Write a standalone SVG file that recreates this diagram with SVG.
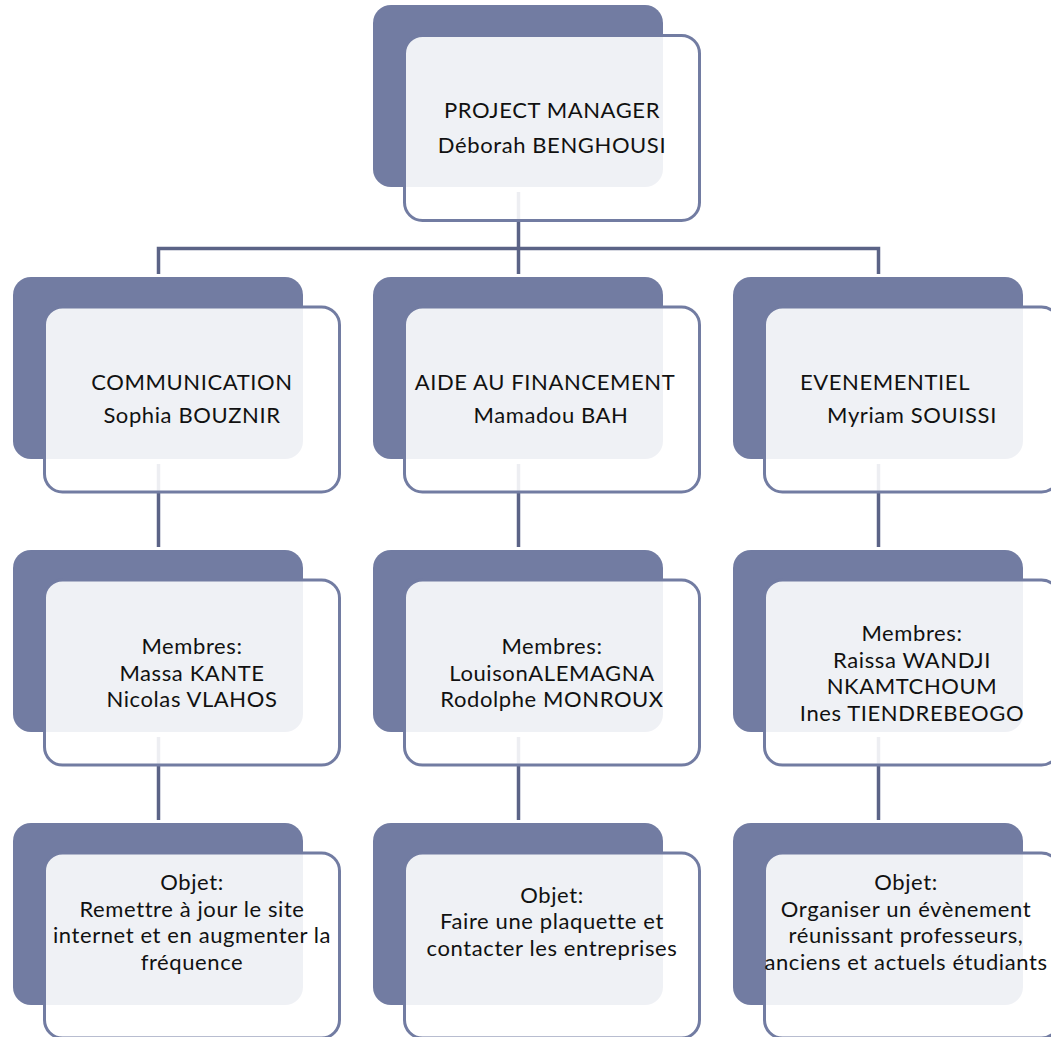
<svg xmlns="http://www.w3.org/2000/svg" width="1051" height="1037" viewBox="0 0 1051 1037">
<style>
.dk{fill:#727ca2}
.fr{fill:#ffffff;fill-opacity:0.89;stroke:#727ca2;stroke-width:3}
.cn{fill:none;stroke:#5b6386;stroke-width:3.5}
.t{font-family:"Lato","Liberation Sans",sans-serif;font-size:22px;letter-spacing:0.6px;fill:#111111;text-anchor:middle}
</style>
<rect width="1051" height="1037" fill="#ffffff"/>
<g id="connectors">
<path class="cn" d="M158.5 274 V248.5 H878.5 V274"/>
<path class="cn" d="M518.5 192 V274"/>
<path class="cn" d="M158.5 464 V547 M518.5 464 V547 M878.5 464 V547"/>
<path class="cn" d="M158.5 737 V820 M518.5 737 V820 M878.5 737 V820"/>
</g>
<g id="pm">
<rect class="dk" x="373" y="5" width="290" height="182" rx="18"/>
<rect class="fr" x="404.5" y="35.5" width="295" height="185" rx="18"/>
<text class="t" x="552" y="118">PROJECT MANAGER</text>
<text class="t" x="552" y="153">Déborah BENGHOUSI</text>
</g>
<g id="communication">
<rect class="dk" x="13" y="277" width="290" height="182" rx="18"/>
<rect class="fr" x="44.5" y="307" width="295" height="185" rx="18"/>
<text class="t" x="192" y="390">COMMUNICATION</text>
<text class="t" x="192" y="423">Sophia BOUZNIR</text>
</g>
<g id="financement">
<rect class="dk" x="373" y="277" width="290" height="182" rx="18"/>
<rect class="fr" x="404.5" y="307" width="295" height="185" rx="18"/>
<text class="t" x="545" y="390">AIDE AU FINANCEMENT</text>
<text class="t" x="551" y="423">Mamadou BAH</text>
</g>
<g id="evenementiel">
<rect class="dk" x="733" y="277" width="290" height="182" rx="18"/>
<rect class="fr" x="764.5" y="307" width="295" height="185" rx="18"/>
<text class="t" x="885" y="390">EVENEMENTIEL</text>
<text class="t" x="912" y="423">Myriam SOUISSI</text>
</g>
<g id="membres-com">
<rect class="dk" x="13" y="550" width="290" height="182" rx="18"/>
<rect class="fr" x="44.5" y="580" width="295" height="185" rx="18"/>
<text class="t" x="192" y="654">Membres:</text>
<text class="t" x="192" y="680.5">Massa KANTE</text>
<text class="t" x="192" y="707">Nicolas VLAHOS</text>
</g>
<g id="membres-fin">
<rect class="dk" x="373" y="550" width="290" height="182" rx="18"/>
<rect class="fr" x="404.5" y="580" width="295" height="185" rx="18"/>
<text class="t" x="552" y="654">Membres:</text>
<text class="t" x="552" y="680.5">LouisonALEMAGNA</text>
<text class="t" x="552" y="707">Rodolphe MONROUX</text>
</g>
<g id="membres-evt">
<rect class="dk" x="733" y="550" width="290" height="182" rx="18"/>
<rect class="fr" x="764.5" y="580" width="295" height="185" rx="18"/>
<text class="t" x="912" y="641">Membres:</text>
<text class="t" x="912" y="667.5">Raissa WANDJI</text>
<text class="t" x="912" y="694">NKAMTCHOUM</text>
<text class="t" x="912" y="720.5">Ines TIENDREBEOGO</text>
</g>
<g id="objet-com">
<rect class="dk" x="13" y="823" width="290" height="182" rx="18"/>
<rect class="fr" x="44.5" y="853" width="295" height="185" rx="18"/>
<text class="t" x="192" y="890">Objet:</text>
<text class="t" x="192" y="916.5">Remettre à jour le site</text>
<text class="t" x="192" y="943">internet et en augmenter la</text>
<text class="t" x="192" y="969.5">fréquence</text>
</g>
<g id="objet-fin">
<rect class="dk" x="373" y="823" width="290" height="182" rx="18"/>
<rect class="fr" x="404.5" y="853" width="295" height="185" rx="18"/>
<text class="t" x="552" y="902.5">Objet:</text>
<text class="t" x="552" y="929">Faire une plaquette et</text>
<text class="t" x="552" y="955.5">contacter les entreprises</text>
</g>
<g id="objet-evt">
<rect class="dk" x="733" y="823" width="290" height="182" rx="18"/>
<rect class="fr" x="764.5" y="853" width="295" height="185" rx="18"/>
<text class="t" x="906" y="890">Objet:</text>
<text class="t" x="906" y="916.5">Organiser un évènement</text>
<text class="t" x="906" y="943">réunissant professeurs,</text>
<text class="t" x="906" y="969.5">anciens et actuels étudiants</text>
</g>
</svg>
